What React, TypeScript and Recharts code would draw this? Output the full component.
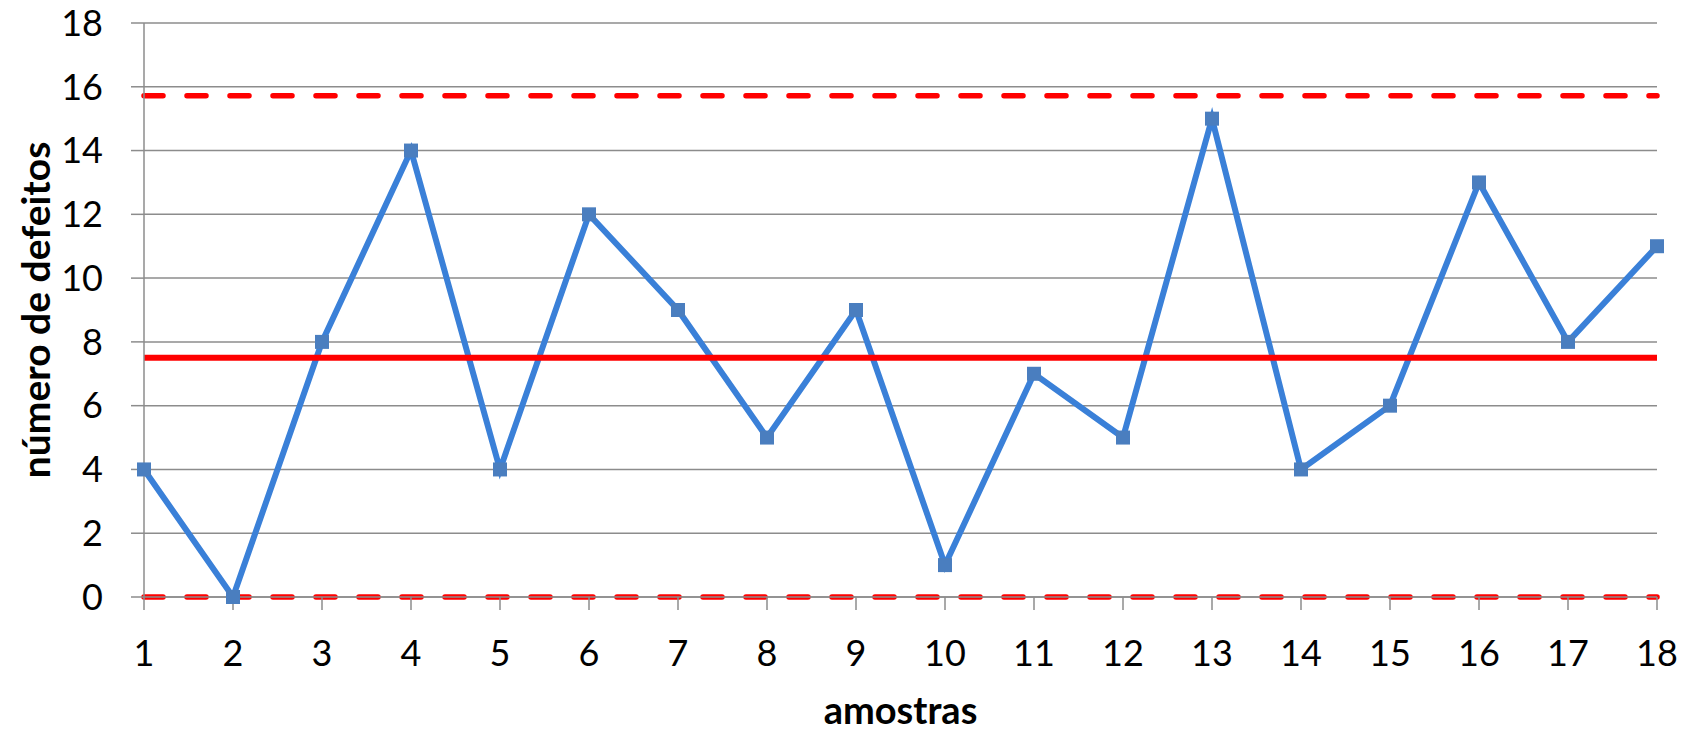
import React from 'react';
import { LineChart, Line, XAxis, YAxis, CartesianGrid } from 'recharts';

const samples = [1, 2, 3, 4, 5, 6, 7, 8, 9, 10, 11, 12, 13, 14, 15, 16, 17, 18];
const defects = [4, 0, 8, 14, 4, 12, 9, 5, 9, 1, 7, 5, 15, 4, 6, 13, 8, 11];
const centerLine = 7.5;
const upperLimit = 15.72;
const lowerLimit = 0;
const yTicks = [0, 2, 4, 6, 8, 10, 12, 14, 16, 18];

const data = samples.map((s, i) => ({
  sample: s,
  defects: defects[i],
  lc: centerLine,
  lsc: upperLimit,
  lic: lowerLimit,
}));

const FONT = 'Lato, "Open Sans", sans-serif';
const GRID = '#8c8c8c';

const SquareDot = (props: any) => {
  const { cx, cy, index } = props;
  if (cx == null || cy == null) return null;
  return <rect key={`d${index}`} x={cx - 7} y={cy - 7} width={14} height={14} fill="#4a7ebf" />;
};

const XLabel = (props: any) => {
  const vb = props.viewBox || {};
  return (
    <text x={vb.x + vb.width / 2} y={724} textAnchor="middle" fontFamily={FONT} fontWeight="bold" fontSize={38} fill="#000">
      amostras
    </text>
  );
};

const YLabel = (props: any) => {
  const vb = props.viewBox || {};
  const cy = vb.y + vb.height / 2;
  return (
    <text x={50} y={cy} transform={`rotate(-90, 50, ${cy})`} textAnchor="middle" fontFamily={FONT} fontWeight="bold" fontSize={39} fill="#000">
      número de defeitos
    </text>
  );
};

export default function App() {
  return (
    <div style={{ width: 1698, height: 731, margin: '-8px 0 0 -8px' }}>
      <LineChart width={1698} height={731} data={data} margin={{ top: 23, right: 41, bottom: 0, left: 0 }}>
        <CartesianGrid vertical={false} stroke={GRID} strokeWidth={1.5} />
        <XAxis
          dataKey="sample"
          type="number"
          domain={[1, 18]}
          ticks={samples}
          interval={0}
          height={134}
          tickSize={13}
          tickMargin={30}
          axisLine={{ stroke: GRID, strokeWidth: 1.5 }}
          tickLine={{ stroke: GRID, strokeWidth: 1.5 }}
          tick={{ fill: '#000', fontSize: 36, fontFamily: FONT }}
          label={<XLabel />}
        />
        <YAxis
          type="number"
          domain={[0, 18]}
          ticks={yTicks}
          interval={0}
          width={144}
          tickSize={13}
          tickMargin={28}
          axisLine={{ stroke: GRID, strokeWidth: 1.5 }}
          tickLine={{ stroke: GRID, strokeWidth: 1.5 }}
          tick={{ fill: '#000', fontSize: 36, fontFamily: FONT }}
          label={<YLabel />}
        />
        <Line
          dataKey="defects"
          stroke="#3a80d8"
          strokeWidth={6}
          dot={<SquareDot />}
          activeDot={false}
          isAnimationActive={false}
        />
        <Line dataKey="lc" stroke="#ff0000" strokeWidth={6} dot={false} activeDot={false} isAnimationActive={false} />
        <Line dataKey="lsc" stroke="#ff0000" strokeWidth={5.5} strokeDasharray="19 24" strokeLinecap="round" dot={false} activeDot={false} isAnimationActive={false} />
        <Line dataKey="lic" stroke="#ff0000" strokeWidth={5.5} strokeDasharray="19 24" strokeLinecap="round" dot={false} activeDot={false} isAnimationActive={false} />
      </LineChart>
    </div>
  );
}
